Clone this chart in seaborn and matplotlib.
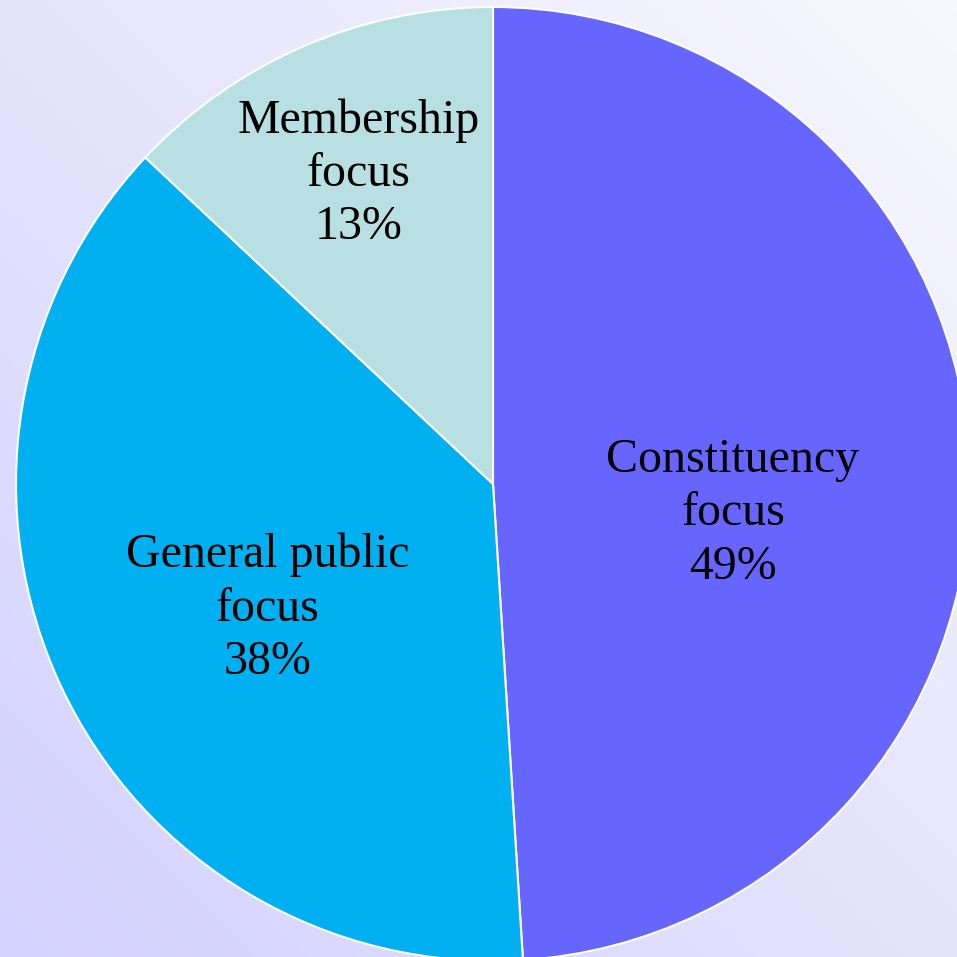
import numpy as np
import seaborn as sns
import matplotlib.pyplot as plt
from matplotlib.colors import LinearSegmentedColormap

# Data
categories = ['Constituency\nfocus', 'General public\nfocus', 'Membership\nfocus']
shares = [49, 38, 13]
colors = ['#6666FF', '#00B0F0', '#B8DFE1']
# label placement relative to wedge middle: radius, angle shift (deg)
label_radius = [0.507, 0.539, 0.708]
label_shift = [-8.8, 3.7, 0.0]

sns.set_theme(style='white')
plt.rcParams['font.family'] = ['Liberation Serif', 'DejaVu Serif']

fig = plt.figure(figsize=(9.57, 9.57), dpi=100)
ax = fig.add_axes([0, 0, 1, 1])

# pie centre at pixel (493, 484), radius 477 px
R = 477.0
x0, x1 = -493 / R, (957 - 493) / R
y0, y1 = -(957 - 484) / R, 484 / R

# diagonal gradient background
gx, gy = np.meshgrid(np.linspace(0, 1, 200), np.linspace(0, 1, 200))
g = (gx + gy) / 2
bg_cmap = LinearSegmentedColormap.from_list('bg', ['#D3D1FD', '#E5E4FD', '#F8F8FF'])
ax.imshow(g, cmap=bg_cmap, origin='lower', extent=[x0, x1, y0, y1],
          aspect='auto', zorder=0)

wedges, _ = ax.pie(shares, colors=colors, startangle=90, counterclock=False,
                   radius=1.0, wedgeprops=dict(edgecolor='white', linewidth=1.5))
for w in wedges:
    w.set_zorder(2)

for w, cat, val, r, s in zip(wedges, categories, shares, label_radius, label_shift):
    mid = np.deg2rad((w.theta1 + w.theta2) / 2 + s)
    ax.text(r * np.cos(mid), r * np.sin(mid), f'{cat}\n{val}%',
            ha='center', va='center', fontsize=34.5, color='black',
            linespacing=1.27, zorder=3)

ax.set_xlim(x0, x1)
ax.set_ylim(y0, y1)
ax.set_aspect('equal')
ax.axis('off')

fig.savefig('out.png', dpi=100)
